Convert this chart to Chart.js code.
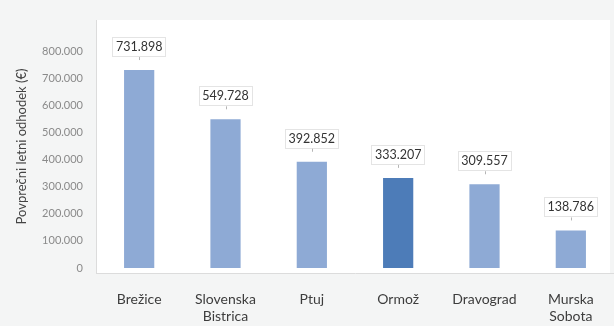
<!DOCTYPE html>
<html>
<head>
<meta charset="utf-8">
<script src="https://cdn.jsdelivr.net/npm/chart.js@4/dist/chart.umd.min.js"></script>
<style>
  html, body { margin: 0; padding: 0; background: #f4f5f5; }
  #wrap { width: 614px; height: 326px; }
</style>
</head>
<body>
<div id="wrap"><canvas id="odhodekChart" width="614" height="326"></canvas></div>
<script>
var obcine = [['Brežice'], ['Slovenska', 'Bistrica'], ['Ptuj'], ['Ormož'], ['Dravograd'], ['Murska', 'Sobota']];
var odhodek = [731898, 549728, 392852, 333207, 309557, 138786];
var yTicks = [0, 100000, 200000, 300000, 400000, 500000, 600000, 700000, 800000];
var poudarek = 'Ormož';

var barva = '#8eaad5';
var barvaPoudarek = '#4d7cb8';

function fmt(v) {
    return String(v).replace(/\B(?=(\d{3})+(?!\d))/g, '.');
}

var barColors = obcine.map(function (o) {
    return o.join(' ') === poudarek ? barvaPoudarek : barva;
});

// white plot panel behind the bars
var panelPlugin = {
    id: 'panel',
    beforeDraw: function (chart) {
        var ctx = chart.ctx, a = chart.chartArea;
        ctx.save();
        ctx.fillStyle = '#ffffff';
        ctx.fillRect(a.left, a.top, a.right - a.left - 4, a.bottom - a.top);
        ctx.restore();
    }
};

// value boxes above each bar
var valueBoxes = {
    id: 'valueBoxes',
    afterDatasetsDraw: function (chart) {
        var ctx = chart.ctx;
        var meta = chart.getDatasetMeta(0);
        ctx.save();
        ctx.font = '12.5px Lato, "Open Sans", sans-serif';
        ctx.textAlign = 'center';
        ctx.textBaseline = 'middle';
        meta.data.forEach(function (bar, i) {
            var txt = fmt(odhodek[i]);
            var w = ctx.measureText(txt).width + 7;
            var h = 19;
            var bottom = bar.y - 14;
            var x = bar.x - w / 2, y = bottom - h;
            ctx.fillStyle = '#ffffff';
            ctx.fillRect(x, y, w, h);
            ctx.setLineDash([1, 1]);
            ctx.strokeStyle = '#c8c8c8';
            ctx.lineWidth = 1;
            ctx.strokeRect(Math.round(x) + 0.5, Math.round(y) + 0.5, Math.round(w), h);
            ctx.setLineDash([]);
            ctx.beginPath();
            ctx.moveTo(Math.round(bar.x) + 0.5, bottom + 1);
            ctx.lineTo(Math.round(bar.x) + 0.5, bottom + 4);
            ctx.strokeStyle = '#b5b5b5';
            ctx.stroke();
            ctx.fillStyle = '#333333';
            ctx.fillText(txt, bar.x, y + h / 2 + 0.5);
        });
        ctx.restore();
    }
};

var ctx = document.getElementById('odhodekChart').getContext('2d');
new Chart(ctx, {
    type: 'bar',
    data: {
        labels: obcine,
        datasets: [{
            data: odhodek,
            backgroundColor: barColors,
            categoryPercentage: 1,
            barPercentage: 0.35
        }]
    },
    options: {
        responsive: false,
        animation: false,
        layout: { padding: { top: 20, right: 0, left: 0, bottom: 0 } },
        plugins: {
            legend: { display: false },
            tooltip: { enabled: false }
        },
        scales: {
            x: {
                grid: { display: false, drawTicks: false },
                border: { color: '#dcdcdc' },
                ticks: {
                    color: '#3d3d3d',
                    padding: 18,
                    maxRotation: 0,
                    autoSkip: false,
                    font: { family: 'Lato, "Open Sans", sans-serif', size: 14, lineHeight: 1.2 }
                },
                afterFit: function (s) { s.height = 53; }
            },
            y: {
                min: -18500,
                max: 917000,
                grid: { display: false, drawTicks: false },
                border: { color: '#dcdcdc' },
                afterBuildTicks: function (s) {
                    s.ticks = yTicks.map(function (v) { return { value: v }; });
                },
                ticks: {
                    color: '#8a8a8a',
                    padding: 13,
                    font: { family: 'Lato, "Open Sans", sans-serif', size: 11 },
                    callback: function (v) { return fmt(v); }
                },
                title: {
                    display: true,
                    text: 'Povprečni letni odhodek (€)',
                    color: '#444444',
                    padding: { top: 14, bottom: 0 },
                    font: { family: 'Lato, "Open Sans", sans-serif', size: 13 }
                },
                afterFit: function (s) { s.width = 96; }
            }
        }
    },
    plugins: [panelPlugin, valueBoxes]
});
</script>
</body>
</html>
